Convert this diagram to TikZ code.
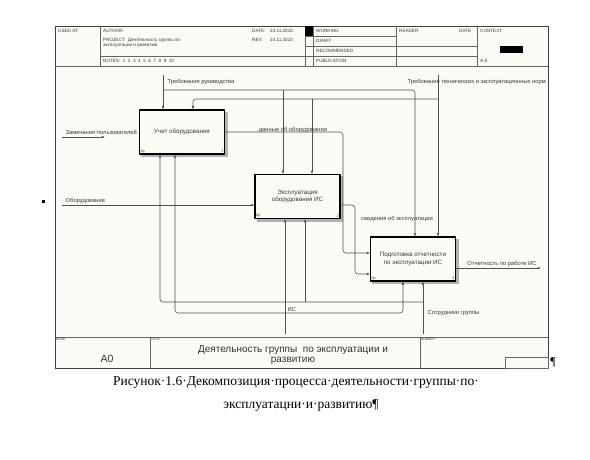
\documentclass[tikz,border=0pt]{standalone}
\usepackage{fontspec}
\setmainfont{Liberation Serif}
\newfontfamily\arialfont{Liberation Sans}
\usetikzlibrary{arrows.meta,backgrounds}
\definecolor{linegray}{RGB}{80,80,80}
\definecolor{textgray}{RGB}{55,55,55}
\definecolor{paper}{RGB}{251,250,245}

\begin{document}
\begin{tikzpicture}[x=1pt,y=-1pt,line join=round,
  frame/.style={draw=black!75,line width=0.9pt},
  rule/.style={draw=black!60,line width=0.5pt},
  hdr/.style={font=\arialfont\fontsize{4.6}{5.5}\selectfont,text=textgray,anchor=west,inner sep=0pt},
  tag/.style={font=\arialfont\fontsize{3.2}{4}\selectfont,text=textgray,anchor=north west,inner sep=0.8pt},
  func/.style={draw=black,line width=1.1pt,fill=paper,minimum width=85pt,minimum height=44pt,align=center,
    font=\arialfont\fontsize{6.2}{7.4}\selectfont,text=textgray},
  corner/.style={font=\arialfont\fontsize{3.6}{4}\selectfont,inner sep=1.4pt,text=textgray},
  arr/.style={draw=linegray,line width=0.55pt,rounded corners=3pt,-{Latex[length=3.2pt,width=2.6pt]}},
  lbl/.style={font=\arialfont\fontsize{5.8}{6.5}\selectfont,text=textgray,inner sep=0.5pt}]
\useasboundingbox (0,0) rectangle (590,460);

% form
\draw[frame] (55,26) rectangle (548,368);
\draw[rule] (55,66) -- (548,66) (55,337) -- (548,337);
\draw[rule] (100,26) -- (100,66) (100,56) -- (305,56);
\draw[rule] (305,26) -- (305,66) (313,26) -- (313,66) (396,26) -- (396,66) (477,26) -- (477,66);
\draw[rule] (305,36) -- (396,36) (305,46.5) -- (477,46.5) (305,56) -- (477,56);
\fill (305,26) rectangle (313,36);
\fill (500,46) rectangle (523,53);
\draw[rule] (150,337) -- (150,368) (420,337) -- (420,368);
\draw[rule] (505,357) rectangle (548,368);
\fill (41.5,199.5) rectangle (44.5,202.5);

\node[hdr] (usedat) at (58,31) {USED AT:};
\node[hdr] (author) at (103,31) {AUTHOR:};
\node[hdr] (project) at (103,40) {PROJECT:\ \ Деятельность группы по};
\node[hdr] (project2) at (103,45.5) {эксплуатации и развитию};
\node[hdr] (notes) at (103,61) {NOTES:\ \ 1\ \ 2\ \ 3\ \ 4\ \ 5\ \ 6\ \ 7\ \ 8\ \ 9\ \ 10};
\node[hdr] (date) at (252,31) {DATE:};
\node[hdr] (dateval) at (270,31) {24.11.2010};
\node[hdr] (rev) at (252,40) {REV:};
\node[hdr] (revval) at (270,40) {24.11.2010};
\node[hdr] (working) at (316,31) {WORKING};
\node[hdr] (draft) at (316,41) {DRAFT};
\node[hdr] (recom) at (316,51) {RECOMMENDED};
\node[hdr] (publ) at (316,61) {PUBLICATION};
\node[hdr] (reader) at (399,31) {READER};
\node[hdr] (rdate) at (459,31) {DATE};
\node[hdr] (context) at (480,31) {CONTEXT:};
\node[hdr] (ctxnode) at (480,61) {A-0};

\node[tag] (nodetag) at (55,337) {NODE:};
\node[tag] (titletag) at (150,337) {TITLE:};
\node[tag] (numtag) at (420,337) {NUMBER:};
\node[font=\arialfont\fontsize{10.5}{11}\selectfont,text=black!80] (a0) at (107,359) {A0};
\node[font=\arialfont\fontsize{10}{10.5}\selectfont,text=black!80,align=center] (title) at (293,355) {Деятельность группы~ по эксплуатации и\\развитию};

% blocks
\node[func] (b1) at (182,132) {Учет оборудования};
\node[func] (b2) at (297.5,196.5) {Эксплуатация\\оборудования ИС};
\node[func] (b3) at (413,259) {Подготовка отчетности\\по эксплуатации ИС};
\node[corner,anchor=south west] (b1p) at (b1.south west) {0р};
\node[corner,anchor=south east] (b1n) at (b1.south east) {1};
\node[corner,anchor=south west] (b2p) at (b2.south west) {0р};
\node[corner,anchor=south east] (b2n) at (b2.south east) {2};
\node[corner,anchor=south west] (b3p) at (b3.south west) {0р};
\node[corner,anchor=south east] (b3n) at (b3.south east) {3};

\begin{scope}[on background layer]
\fill[paper] (55,26) rectangle (548,368);
\foreach \b in {b1,b2,b3}
  \fill[black!30] ([shift={(2.5,2.5)}]\b.south west) rectangle ([shift={(2.5,2.5)}]\b.north east);
\end{scope}

\coordinate (trr) at (163,75);
\coordinate (ttn) at (438,75);
\coordinate (j1) at (283,90);
\coordinate (j2) at (312,99);
\coordinate (zam) at (62,137);
\coordinate (zamend) at (105,137);
\coordinate (obo) at (62,205);
\coordinate (otch) at (541,268);
\coordinate (sotr) at (423,334);
\coordinate (ic) at (285,334);
\coordinate (j3) at (305,302);

% controls
\draw[arr] (trr) -- (trr |- b1.north);
\draw[arr] (trr |- j1) -| (415,0 |- b3.north);
\draw[arr] (j1) -- (j1 |- b2.north);
\draw[arr] (ttn) -- (ttn |- b3.north);
\draw[arr] (ttn |- j2) -| (193,0 |- b1.north);
\draw[arr] (j2) -- (j2 |- b2.north);
% inputs
\draw[arr] (zam) -- (zamend);
\draw[arr] (obo) -- (obo -| b2.west);
% outputs
\draw[arr] (b1.east) -| (343,253) -- (b3.west |- 0,253);
\draw[arr] (b2.east |- 0,205) -| (355,274) -- (b3.west |- 0,274);
\draw[arr] (b3.east |- otch) -- (otch);
% mechanisms
\draw[arr] (sotr) -- (sotr |- b3.south);
\draw[arr] (sotr |- j3) -| (160,0 |- b1.south);
\draw[arr] (j3) -- (j3 |- b2.south);
\draw[arr] (ic) -- (ic |- b2.south);
\draw[arr] (ic |- 0,313) -| (175,0 |- b1.south);
\draw[arr] (ic |- 0,313) -| (403,0 |- b3.south);

\node[lbl,anchor=west] (ltrr) at (167,82) {Требования руководства};
\node[lbl,anchor=west] (lttn) at (407,82) {Требования технических и эксплуатационных норм};
\node[lbl,anchor=west] (lzam) at (65,132) {Замечания пользователей};
\node[lbl,anchor=west] (lobo) at (65,201) {Оборудование};
\node[lbl] (ldan) at (293,130) {данные об оборудовании};
\node[lbl] (lsved) at (397,219) {сведения об эксплуатации};
\node[lbl] (lotch) at (502,264) {Отчетность по работе ИС};
\node[lbl,anchor=west] (lsotr) at (427,313) {Сотрудники группы};
\node[lbl,anchor=west] (lic) at (287,310) {ИС};

% caption
\node[font=\fontsize{13.5}{15}\selectfont] (cap1) at (296,382) {Рисунок·1.6·Декомпозиция·процесса·деятельности·группы·по·};
\node[font=\fontsize{13.5}{15}\selectfont] (cap2) at (301,406) {эксплуатацни·и·развитию¶};
\node[font=\fontsize{12}{13}\selectfont] (pilcrow) at (553,362) {¶};
\end{tikzpicture}
\end{document}
